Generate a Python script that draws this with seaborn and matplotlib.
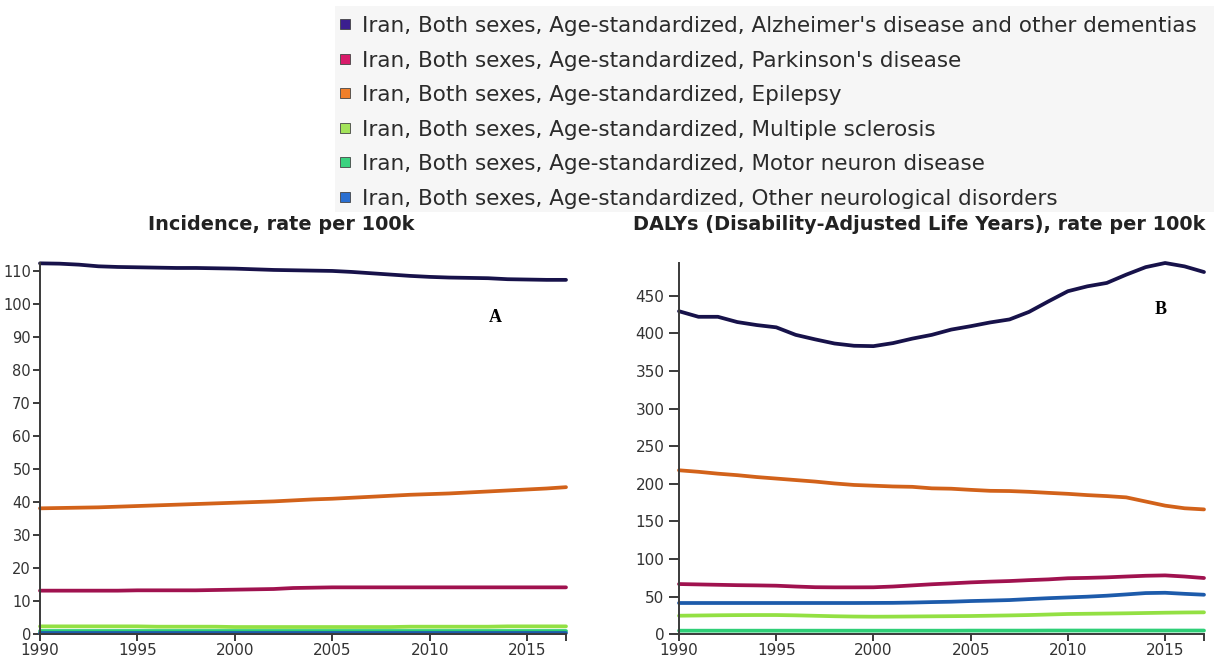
import numpy as np
import pandas as pd
import matplotlib
matplotlib.use("Agg")
import matplotlib.pyplot as plt
import seaborn as sns
from matplotlib.lines import Line2D
from matplotlib.patches import Rectangle

W, H = 1214, 660

years = list(range(1990, 2018))
prefix = "Iran, Both sexes, Age-standardized, "
causes = ["Alzheimer's disease and other dementias", "Parkinson's disease", "Epilepsy",
          "Multiple sclerosis", "Motor neuron disease", "Other neurological disorders"]
line_colors = ["#17124a", "#a0124f", "#d2621a", "#93e043", "#2ecf77", "#1d5bab"]
legend_colors = ["#3b1f8f", "#d81b6a", "#f07f2a", "#a3e35a", "#3ad27f", "#2a6fd1"]

# Incidence, rate per 100k
inc_alz = [112.2, 112.1, 111.8, 111.3, 111.1, 111.0, 110.9, 110.8, 110.8, 110.7, 110.6, 110.4, 110.2, 110.1,
           110.0, 109.9, 109.6, 109.2, 108.8, 108.4, 108.1, 107.9, 107.8, 107.7, 107.4, 107.3, 107.2, 107.2]
inc_park = [13.2, 13.2, 13.2, 13.2, 13.2, 13.3, 13.3, 13.3, 13.3, 13.4, 13.5, 13.6, 13.7, 14.0,
            14.1, 14.2, 14.2, 14.2, 14.2, 14.2, 14.2, 14.2, 14.2, 14.2, 14.2, 14.2, 14.2, 14.2]
inc_epi = [38.1, 38.2, 38.3, 38.4, 38.6, 38.8, 39.0, 39.2, 39.4, 39.6, 39.8, 40.0, 40.2, 40.5,
           40.8, 41.0, 41.3, 41.6, 41.9, 42.2, 42.4, 42.6, 42.9, 43.2, 43.5, 43.8, 44.1, 44.5]
inc_ms = [2.4, 2.4, 2.4, 2.4, 2.4, 2.4, 2.3, 2.3, 2.3, 2.3, 2.2, 2.2, 2.2, 2.2,
          2.2, 2.2, 2.2, 2.2, 2.2, 2.3, 2.3, 2.3, 2.3, 2.3, 2.4, 2.4, 2.4, 2.4]
inc_mnd = [1.1, 1.1, 1.1, 1.1, 1.1, 1.1, 1.1, 1.1, 1.1, 1.1, 1.1, 1.1, 1.1, 1.1,
           1.1, 1.1, 1.1, 1.1, 1.1, 1.1, 1.1, 1.1, 1.1, 1.1, 1.1, 1.1, 1.1, 1.1]
inc_other = [0.5, 0.5, 0.5, 0.5, 0.5, 0.5, 0.5, 0.5, 0.5, 0.5, 0.5, 0.5, 0.5, 0.5,
             0.5, 0.5, 0.5, 0.5, 0.5, 0.5, 0.5, 0.5, 0.5, 0.5, 0.5, 0.5, 0.5, 0.5]

# DALYs, rate per 100k
daly_alz = [429.4, 422.0, 422.0, 415.0, 411.0, 408.0, 398.0, 392.0, 386.5, 383.5, 383.0, 387.0, 393.0, 398.0,
            405.0, 409.5, 414.5, 418.5, 428.5, 442.5, 456.0, 462.5, 467.0, 478.0, 488.0, 493.5, 489.0, 481.5]
daly_park = [66.8, 66.3, 65.8, 65.3, 65.0, 64.6, 63.5, 62.6, 62.4, 62.4, 62.5, 63.5, 65.0, 66.5,
             67.7, 69.0, 70.0, 70.8, 72.0, 73.0, 74.5, 75.0, 75.7, 76.8, 77.8, 78.3, 76.8, 74.8]
daly_epi = [218.0, 216.0, 213.5, 211.5, 209.0, 207.0, 205.0, 203.0, 200.5, 198.5, 197.5, 196.5, 196.0, 194.0,
            193.5, 192.0, 190.7, 190.4, 189.4, 188.0, 186.7, 185.0, 183.7, 182.0, 176.5, 171.0, 167.5, 166.0]
daly_ms = [24.7, 25.0, 25.3, 25.5, 25.6, 25.6, 25.2, 24.6, 24.0, 23.6, 23.4, 23.5, 23.7, 23.9,
           24.1, 24.3, 24.7, 25.1, 25.6, 26.3, 27.0, 27.3, 27.6, 27.9, 28.3, 28.7, 29.0, 29.2]
daly_mnd = [4.8, 4.8, 4.8, 4.8, 4.8, 4.8, 4.8, 4.8, 4.8, 4.8, 4.8, 4.8, 4.8, 4.8,
            4.8, 4.9, 4.9, 4.9, 4.9, 5.0, 5.0, 5.0, 5.0, 5.0, 5.0, 5.0, 5.0, 5.0]
daly_other = [41.6, 41.6, 41.6, 41.6, 41.6, 41.6, 41.6, 41.6, 41.6, 41.6, 41.7, 41.8, 42.2, 42.8,
              43.3, 44.2, 44.8, 45.5, 46.8, 48.0, 49.0, 50.0, 51.3, 53.0, 54.8, 55.2, 53.8, 52.6]

inc_series = [inc_alz, inc_park, inc_epi, inc_ms, inc_mnd, inc_other]
daly_series = [daly_alz, daly_park, daly_epi, daly_ms, daly_mnd, daly_other]

x_ticks = [1990, 1995, 2000, 2005, 2010, 2015, 2017]
x_ticklabels = ["1990", "1995", "2000", "2005", "2010", "2015", ""]
inc_yticks = list(range(0, 111, 10))
daly_yticks = list(range(0, 451, 50))


def long_df(series):
    return pd.DataFrame({
        "year": years * len(causes),
        "cause": np.repeat(causes, len(years)),
        "value": np.concatenate(series),
    })


sns.set_theme(style="ticks")
plt.rcParams["font.family"] = ["DejaVu Sans"]

fig = plt.figure(figsize=(W / 100, H / 100), dpi=100)
fig.patch.set_facecolor("white")

y_bot, y_top = 634.3, 263.0
ax1 = fig.add_axes([40 / W, (H - y_bot) / H, 526 / W, (y_bot - y_top) / H])
ax2 = fig.add_axes([679 / W, (H - y_bot) / H, 525 / W, (y_bot - y_top) / H])

palette = dict(zip(causes, line_colors))

for ax, series, ymax, yticks, ylen, ypad, ysize in [
        (ax1, inc_series, 112.3, inc_yticks, 5, 1.5, 10.5),
        (ax2, daly_series, 493.5, daly_yticks, 7, 3.5, 11)]:
    sns.lineplot(data=long_df(series), x="year", y="value", hue="cause",
                 hue_order=causes, palette=palette, ax=ax, linewidth=2.7,
                 legend=False, solid_capstyle="round")
    for ln in ax.lines:
        ln.set_clip_on(False)
    ax.set_xlim(1990, 2017)
    ax.set_ylim(0, ymax)
    ax.set_xticks(x_ticks)
    ax.set_xticklabels(x_ticklabels)
    ax.set_yticks(yticks)
    ax.set_yticklabels([str(v) for v in yticks])
    ax.set_xlabel("")
    ax.set_ylabel("")
    sns.despine(ax=ax)
    for s in ["left", "bottom"]:
        ax.spines[s].set_color("#3a3a3a")
        ax.spines[s].set_linewidth(1.4)
    ax.tick_params(axis="x", length=5, width=1.4, color="#3a3a3a", labelcolor="#333333",
                   labelsize=11, pad=1)
    ax.tick_params(axis="y", length=ylen, width=1.4, color="#3a3a3a", labelcolor="#333333",
                   labelsize=ysize, pad=ypad)
    ax.set_facecolor("white")
    ax.grid(False)

# titles
fig.text(148 / W, 1 - 224 / H, "Incidence, rate per 100k", fontsize=13.9, fontweight="bold",
         color="#222222", ha="left", va="center")
fig.text(633 / W, 1 - 224 / H, "DALYs (Disability-Adjusted Life Years), rate per 100k",
         fontsize=13.9, fontweight="bold", color="#222222", ha="left", va="center")

# panel letters
fig.text(495 / W, 1 - 318 / H, "A", family="Liberation Serif", fontweight="bold", fontsize=13,
         color="black", ha="center", va="center")
fig.text(1161 / W, 1 - 310 / H, "B", family="Liberation Serif", fontweight="bold", fontsize=13,
         color="black", ha="center", va="center")

# legend
fig.add_artist(Rectangle((335 / W, 1 - 212 / H), (W - 335) / W, (212 - 6) / H,
                         transform=fig.transFigure, facecolor="#f6f6f6", edgecolor="none", zorder=0))
for i, (c, col) in enumerate(zip(causes, legend_colors)):
    yc = 1 - (24 + 34.6 * i) / H
    fig.add_artist(Line2D([345 / W], [yc], transform=fig.transFigure, marker="s", markersize=6.5,
                          markerfacecolor=col, markeredgecolor="#444444", markeredgewidth=0.6,
                          linestyle="none"))
    fig.text(362 / W, yc, prefix + c, fontsize=15.5, color="#2b2b2b", ha="left", va="center_baseline")

fig.savefig("out.png", dpi=100)
